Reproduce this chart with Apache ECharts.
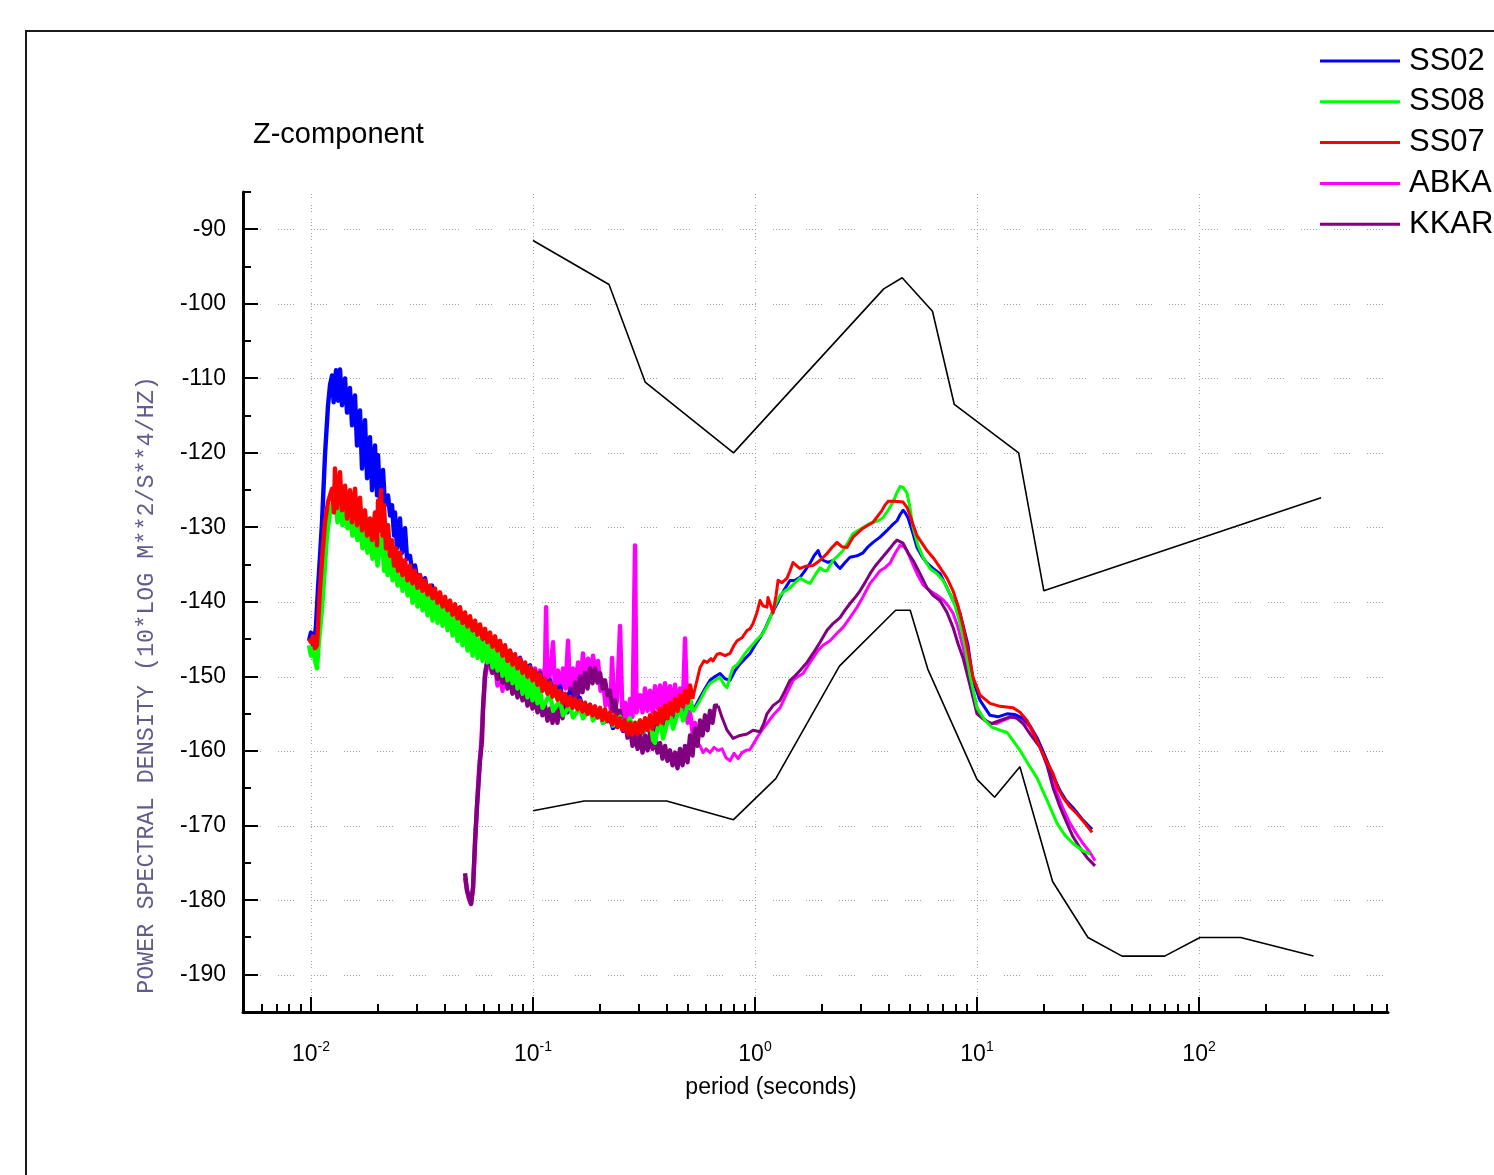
<!DOCTYPE html>
<html>
<head>
<meta charset="utf-8">
<title>Z-component power spectral density</title>
<script src="https://cdn.jsdelivr.net/npm/echarts@6/dist/echarts.min.js"></script>
<style>
  html, body { margin: 0; padding: 0; background: #ffffff; }
  #chart { width: 1494px; height: 1175px; }
</style>
</head>
<body>
<div id="chart"></div>
<script>
// ---- axis extents and tick values ----
const X_MIN = 0.004939, X_MAX = 710;      // period, seconds (log axis)
const Y_MIN = -195, Y_MAX = -85;          // dB
const xDecades = [0.01, 0.1, 1, 10, 100];
const yGridValues = [-190, -180, -170, -160, -150, -140, -130, -120, -110, -100, -90];

const titleText = 'Z-component';
const xAxisTitle = 'period (seconds)';
const yAxisTitle = 'POWER SPECTRAL DENSITY (10*LOG M**2/S**4/HZ)';

const stationNames = ['SS02', 'SS08', 'SS07', 'ABKA', 'KKAR'];
const stationColors = { SS02: '#0000ff', SS08: '#00ff00', SS07: '#ff0000', ABKA: '#ff00ff', KKAR: '#800080' };

// ---- Peterson new high / low noise models: [period s, dB] ----
const nhnm = [[0.10,-91.5],[0.22,-97.41],[0.32,-110.5],[0.80,-120.0],[3.80,-98.0],[4.60,-96.5],[6.30,-101.0],[7.90,-113.5],[15.40,-120.0],[20.00,-138.5],[354.8,-126.0]];
const nlnm = [[0.10,-168.0],[0.17,-166.7],[0.40,-166.7],[0.80,-169.2],[1.24,-163.7],[2.40,-148.6],[4.30,-141.1],[5.00,-141.1],[6.00,-149.0],[10.00,-163.8],[12.00,-166.2],[15.60,-162.1],[21.90,-177.5],[31.60,-185.0],[45.00,-187.5],[70.00,-187.5],[101.0,-185.0],[154.0,-185.0],[328.0,-187.5]];

// ---- station spectra: [period s, dB] ----
const ss02 = [
[0.00979,-145.2],[0.0100,-144.1],[0.01021,-145.8],[0.01042,-144.5],[0.01053,-143.2],[0.01075,-138.2],[0.01098,-133.8],[0.01121,-129.3],[0.01156,-120.3],[0.01193,-113.6],[0.01218,-110.9],
[0.01244,-109.6],[0.01264,-113.2],[0.01296,-108.9],[0.01323,-113.0],[0.01351,-108.8],[0.01379,-113.6],[0.01423,-110.0],[0.01453,-114.6],[0.01498,-111.3],[0.01530,-116.3],[0.01578,-112.3],[0.01611,-119.0],[0.01662,-114.3],[0.01697,-122.1],[0.01751,-115.6],[0.01788,-123.4],[0.01844,-117.9],[0.01883,-125.0],[0.01942,-119.0],[0.01983,-125.7],[0.02004,-120.3],[0.02046,-126.4],[0.02110,-122.3],[0.02154,-127.0],[0.02223,-125.7],[0.02270,-128.4],[0.02317,-127.0],[0.02366,-131.1],[0.02390,-128.0],[0.02440,-132.8],[0.02517,-128.8],[0.02570,-133.4],[0.02651,-130.1],[0.02707,-134.2],[0.02792,-133.8],[0.02851,-135.8],[0.02941,-135.1],[0.03003,-136.8],[0.03097,-136.4],[0.03162,-138.2],[0.03262,-136.8],[0.03331,-138.5],[0.03508,-137.8],[0.03582,-139.4],
[0.03812,-139.7],[0.03932,-141.4],[0.04229,-140.8],[0.04363,-142.1],[0.04690,-141.7],[0.04838,-143.1],[0.05203,-142.5],[0.05367,-144.1],[0.05771,-143.5],[0.05953,-145.1],[0.06402,-144.6],[0.06604,-146.1],[0.07101,-145.5],[0.07325,-147.1],[0.07877,-146.6],[0.08126,-148.2],[0.08737,-147.5],[0.09013,-149.1],[0.09693,-148.5],[0.1000,-150.2],[0.1075,-149.5],[0.1109,-151.1],[0.1193,-150.5],[0.1231,-152.2],[0.1323,-151.3],[0.1365,-153.1],[0.1468,-152.2],[0.1514,-153.9],[0.1628,-152.9],[0.1679,-154.6],[0.1806,-153.8],[0.1863,-155.1],[0.2004,-154.9],[0.2067,-156.2],[0.2223,-155.6],[0.2293,-156.9],[0.2466,-155.8],[0.2544,-157.3],[0.2735,-156.2],[0.2821,-157.8],[0.3034,-156.2],[0.3130,-157.5],[0.3365,-155.8],[0.3471,-157.3],[0.3733,-155.6],[0.3851,-156.9],[0.4141,-154.9],[0.4272,-156.2],[0.4594,-154.2],[0.4739,-155.5],[0.5096,-153.3],[0.5257,-154.6],
[0.5654,-152.8],[0.5955,-151.6],[0.6272,-150.5],[0.6606,-150.0],[0.6958,-149.6],[0.7329,-150.3],[0.7719,-150.5],[0.8130,-149.2],[0.8563,-148.3],[0.9019,-147.6],[0.9495,-146.9],[1.000,-145.8],[1.053,-144.8],[1.109,-143.6],[1.193,-141.5],[1.244,-140.5],[1.296,-139.4],[1.365,-138.2],[1.438,-137.1],[1.515,-137.1],[1.595,-136.7],[1.680,-135.8],[1.769,-134.8],[1.845,-133.8],[1.923,-133.1],[1.963,-133.8],[2.025,-134.4],[2.132,-134.7],[2.246,-134.4],[2.341,-135.1],[2.415,-135.5],[2.544,-134.7],[2.679,-134.0],[2.881,-133.8],[3.066,-133.4],[3.229,-132.6],[3.401,-132.0],[3.657,-131.3],[3.932,-130.4],[4.141,-129.7],[4.362,-129.1],[4.500,-128.3],[4.642,-127.7],[4.739,-128.0],[4.889,-128.7],[5.097,-130.4],[5.367,-132.7],[5.653,-133.9],[5.955,-134.8],[6.336,-135.5],[6.813,-136.2],[7.251,-137.8],[7.797,-139.8],[8.384,-141.5],[9.108,-145.8],[9.594,-150.5],[10.32,-153.2],[11.44,-155.2],[12.43,-155.4],[13.65,-155.0],[14.83,-155.1],[16.11,-155.6],[17.33,-156.6],[18.63,-158.2],[19.62,-159.7],[20.68,-161.3],[22.00,-163.3],[23.65,-165.3],[25.17,-166.6],[27.07,-167.6],[29.72,-169.1],[32.97,-170.5]
];

const ss08 = [
[0.00979,-145.8],[0.0100,-147.2],[0.01021,-146.2],[0.01042,-147.9],[0.01064,-148.9],[0.01086,-145.2],[0.01121,-140.9],[0.01156,-135.1],[0.01180,-131.1],[0.01218,-128.0],[0.01244,-127.0],
[0.01282,-126.1],[0.01316,-129.3],[0.01351,-126.4],[0.01386,-129.7],[0.01423,-127.4],[0.01460,-130.1],[0.01498,-128.0],[0.01537,-131.1],[0.01578,-128.8],[0.01619,-131.7],[0.01662,-129.7],[0.01706,-132.8],[0.01751,-130.1],[0.01797,-133.4],[0.01844,-130.7],[0.01893,-134.2],[0.01942,-131.3],[0.01993,-135.1],[0.02046,-132.0],[0.02089,-131.1],[0.02132,-135.8],[0.02154,-132.4],[0.02211,-136.4],[0.02270,-133.1],[0.02330,-137.1],[0.02390,-133.8],[0.02453,-137.8],[0.02517,-134.4],[0.02583,-138.5],[0.02651,-135.1],[0.02721,-139.1],[0.02792,-135.8],[0.02865,-140.1],[0.02941,-136.4],[0.03018,-140.6],[0.03097,-137.1],[0.03178,-141.1],[0.03262,-137.8],[0.03348,-141.8],[0.03436,-138.5],[0.03526,-142.5],[0.03619,-139.1],[0.03714,-142.8],[0.03812,-139.5],[0.03912,-143.2],[0.04015,-140.1],[0.04121,-143.8],[0.04229,-140.7],[0.04340,-144.5],[0.04454,-141.4],[0.04571,-145.2],[0.04690,-142.2],[0.04813,-145.8],[0.04940,-142.8],[0.05070,-146.5],[0.05203,-143.4],[0.05340,-147.2],[0.05480,-144.2],[0.05624,-147.5],[0.05771,-144.9],[0.05923,-147.9],[0.06078,-145.4],[0.06238,-148.1],[0.06402,-145.8],[0.06570,-148.8],[0.06743,-146.2],[0.06920,-149.2],[0.07101,-146.8],[0.07288,-149.9],[0.07479,-147.3],[0.07676,-150.5],[0.07877,-147.9],[0.08084,-150.9],[0.08296,-148.5],[0.08514,-151.6],[0.08737,-149.2],[0.08967,-152.3],[0.09204,-149.9],[0.09446,-152.8],[0.09693,-150.5],[0.09948,-153.2],[0.1021,-150.9],[0.1048,-153.6],[0.1075,-151.5],[0.1103,-154.2],[0.1193,-152.3],[0.1231,-154.6],[0.1323,-153.2],[0.1365,-155.2],[0.1468,-153.9],[0.1514,-155.5],[0.1628,-154.2],[0.1679,-155.6],[0.1806,-154.3],[0.1863,-155.9],[0.2004,-154.6],[0.2067,-156.2],[0.2223,-155.1],[0.2293,-156.6],[0.2466,-155.4],[0.2544,-157.0],[0.2735,-155.6],[0.2821,-157.2],[0.3034,-155.9],[0.3130,-157.5],[0.3365,-155.4],[0.3471,-158.5],[0.3544,-158.9],[0.3733,-155.2],[0.3851,-158.3],[0.4141,-154.8],[0.4272,-157.0],[0.4594,-153.9],[0.4739,-155.9],[0.5096,-153.0],[0.5257,-154.8],
[0.5654,-153.2],[0.5955,-151.9],[0.6272,-150.9],[0.6606,-150.5],[0.6958,-150.1],[0.7253,-151.1],[0.7483,-151.5],[0.7719,-150.0],[0.7963,-148.8],[0.8301,-148.4],[0.8563,-147.9],[0.9019,-146.9],[0.9495,-146.1],[1.0104,-145.2],[1.086,-144.2],[1.144,-142.8],[1.193,-141.5],[1.244,-140.2],[1.296,-139.1],[1.365,-138.5],[1.438,-138.1],[1.515,-137.4],[1.595,-136.8],[1.680,-137.2],[1.769,-137.5],[1.864,-136.4],[1.963,-135.4],[2.046,-135.8],[2.110,-135.8],[2.177,-135.1],[2.246,-134.4],[2.365,-133.8],[2.491,-133.1],[2.624,-132.0],[2.764,-130.8],[2.911,-130.4],[3.066,-130.0],[3.229,-129.6],[3.401,-129.3],[3.582,-129.1],[3.773,-128.7],[3.973,-127.7],[4.184,-126.6],[4.362,-125.3],[4.500,-124.5],[4.642,-124.6],[4.838,-125.4],[4.992,-127.4],[5.150,-130.0],[5.423,-132.4],[5.712,-134.0],[6.142,-135.5],[6.605,-136.2],[7.028,-137.1],[7.558,-138.9],[7.960,-140.5],[8.384,-142.9],[8.830,-145.8],[9.300,-149.9],[10.00,-154.2],[10.87,-155.9],[11.68,-156.8],[12.69,-157.2],[13.65,-157.5],[14.53,-158.6],[15.62,-159.9],[16.97,-161.7],[18.63,-163.6],[20.68,-166.6],[22.94,-169.7],[24.91,-171.3],[27.07,-172.4],[30.03,-173.4],[32.29,-173.8]
];

const ss07 = [
[0.00979,-144.9],[0.0100,-145.4],[0.01021,-144.6],[0.01042,-146.2],[0.01064,-145.8],[0.01098,-138.2],[0.01121,-134.4],[0.01156,-129.3],[0.01193,-126.6],[0.01218,-125.7],
[0.01244,-124.8],[0.01269,-128.0],[0.01282,-122.1],[0.01309,-127.4],[0.01351,-122.6],[0.01379,-127.7],[0.01423,-124.4],[0.01453,-128.8],[0.01498,-125.0],[0.01530,-129.3],[0.01578,-124.8],[0.01611,-129.7],[0.01662,-126.0],[0.01697,-130.4],[0.01751,-127.7],[0.01788,-131.1],[0.01844,-128.8],[0.01883,-131.7],[0.01942,-128.0],[0.01983,-132.4],[0.02004,-126.4],[0.02035,-130.4],[0.02067,-125.0],[0.02099,-131.1],[0.02132,-127.0],[0.02176,-132.8],[0.02223,-129.7],[0.02270,-133.8],[0.02317,-131.7],[0.02366,-135.1],[0.02415,-132.8],[0.02466,-135.8],[0.02517,-133.4],[0.02583,-136.4],[0.02651,-134.4],[0.02721,-137.1],[0.02792,-135.1],[0.02865,-137.5],[0.02941,-135.8],[0.03018,-138.1],[0.03097,-136.4],[0.03178,-138.5],[0.03262,-137.1],[0.03348,-139.0],[0.03436,-137.8],[0.03526,-139.5],[0.03619,-138.2],[0.03714,-140.1],[0.03812,-138.7],[0.03912,-140.6],[0.04015,-139.3],[0.04121,-141.1],[0.04229,-139.8],[0.04340,-141.7],[0.04454,-140.3],[0.04571,-142.2],[0.04690,-140.7],[0.04813,-142.8],[0.04940,-141.4],[0.05070,-143.3],[0.05203,-141.9],[0.05340,-143.8],[0.05480,-142.5],[0.05624,-144.4],[0.05771,-143.0],[0.05923,-144.9],[0.06078,-143.6],[0.06238,-145.4],[0.06402,-144.1],[0.06570,-146.0],[0.06743,-144.6],[0.06920,-146.5],[0.07101,-145.2],[0.07288,-147.2],[0.07479,-145.8],[0.07676,-147.9],[0.07877,-146.5],[0.08084,-148.4],[0.08296,-147.0],[0.08514,-148.9],[0.08737,-147.6],[0.08967,-149.5],[0.09204,-148.1],[0.09446,-150.0],[0.09693,-148.7],[0.09948,-150.5],[0.1021,-149.2],[0.1048,-151.1],[0.1075,-149.7],[0.1103,-151.9],[0.1133,-150.3],[0.1162,-152.3],[0.1193,-150.8],[0.1224,-152.7],[0.1256,-151.3],[0.1289,-153.1],[0.1323,-151.9],[0.1358,-153.5],[0.1393,-152.3],[0.1430,-153.9],[0.1468,-152.7],[0.1506,-154.2],[0.1546,-153.0],[0.1587,-154.4],[0.1628,-153.2],[0.1671,-154.7],[0.1715,-153.5],[0.1760,-155.0],[0.1806,-153.8],[0.1854,-155.2],[0.1902,-154.0],[0.1952,-155.5],[0.2004,-154.2],[0.2057,-155.8],[0.2110,-154.4],[0.2166,-156.0],[0.2223,-154.8],[0.2281,-156.4],[0.2341,-155.2],[0.2403,-156.8],[0.2466,-155.6],[0.2531,-157.2],[0.2597,-155.9],[0.2665,-157.7],[0.2735,-156.2],[0.2807,-157.8],[0.2881,-156.2],[0.2957,-157.7],[0.3034,-155.9],[0.3114,-157.5],[0.3195,-155.6],[0.3280,-157.2],[0.3365,-155.2],[0.3454,-157.0],[0.3544,-154.8],[0.3637,-156.4],[0.3733,-154.3],[0.3831,-156.2],[0.3932,-153.9],[0.4035,-155.6],[0.4141,-153.5],[0.4250,-155.1],[0.4362,-153.0],[0.4476,-154.6],[0.4594,-152.5],[0.4715,-154.0],[0.4839,-151.9],[0.4966,-153.5],[0.5096,-151.2],[0.5230,-153.0],
[0.5654,-148.8],[0.5894,-147.9],[0.6080,-148.1],[0.6337,-147.6],[0.6470,-147.9],[0.6745,-147.0],[0.6958,-146.9],[0.7329,-147.2],[0.7719,-146.9],[0.8046,-145.8],[0.8301,-145.2],[0.8743,-144.8],[0.9208,-143.8],[0.9495,-143.6],[0.9795,-142.9],[1.021,-141.4],[1.053,-139.8],[1.086,-140.5],[1.132,-140.7],[1.144,-139.4],[1.181,-140.6],[1.205,-141.5],[1.244,-139.1],[1.270,-137.1],[1.323,-137.4],[1.394,-136.8],[1.438,-135.8],[1.483,-134.7],[1.547,-135.2],[1.595,-135.5],[1.697,-135.2],[1.825,-135.1],[1.963,-134.4],[2.110,-133.5],[2.222,-132.7],[2.341,-132.0],[2.466,-132.6],[2.597,-132.7],[2.679,-132.0],[2.764,-131.3],[2.911,-130.7],[3.066,-130.1],[3.229,-129.7],[3.401,-129.3],[3.582,-128.4],[3.734,-127.7],[3.851,-127.0],[3.973,-126.5],[4.272,-126.5],[4.642,-126.6],[4.838,-127.3],[4.992,-128.4],[5.150,-129.6],[5.367,-131.1],[5.653,-132.1],[5.955,-133.1],[6.401,-134.2],[6.813,-135.4],[7.327,-136.8],[7.797,-138.5],[8.213,-140.5],[8.649,-143.2],[9.108,-146.5],[9.594,-150.1],[10.32,-152.5],[11.44,-153.6],[12.69,-154.0],[14.53,-154.2],[15.62,-154.8],[16.80,-155.9],[18.06,-157.7],[19.22,-159.5],[20.68,-161.5],[22.00,-163.0],[23.18,-165.0],[24.40,-166.2],[26.24,-167.5],[28.21,-168.4],[30.66,-169.7],[32.97,-170.9]
];

const abka = [
[0.04940,-177.0],[0.05044,-178.7],[0.05150,-179.8],[0.05257,-180.5],[0.05367,-178.5],[0.05480,-172.7],[0.05595,-167.3],[0.05712,-162.6],[0.05831,-159.3],[0.05953,-154.6],[0.06078,-150.3],[0.06205,-148.4],[0.06336,-148.1],[0.06536,-149.5],
[0.06743,-148.5],[0.06920,-151.2],[0.07101,-148.9],[0.07288,-151.9],[0.07479,-148.5],[0.07676,-151.6],[0.07877,-149.2],[0.08084,-152.1],[0.08296,-148.9],[0.08514,-151.9],[0.08737,-149.5],[0.08967,-152.3],[0.09204,-149.2],[0.09446,-151.9],[0.09693,-149.5],[0.09948,-152.1],[0.1021,-148.9],[0.1048,-151.9],[0.1075,-149.2],[0.1103,-151.6],[0.1133,-148.5],[0.1145,-140.7],[0.1162,-151.9],[0.1193,-149.5],[0.1231,-145.4],[0.1256,-151.9],[0.1295,-149.2],[0.1330,-152.1],[0.1365,-148.9],[0.1400,-151.6],[0.1438,-145.2],[0.1468,-151.9],[0.1514,-148.9],[0.1554,-151.2],[0.1596,-148.1],[0.1636,-150.8],[0.1679,-146.9],[0.1724,-150.5],[0.1770,-147.6],[0.1815,-149.9],[0.1863,-147.2],[0.1912,-149.5],[0.1963,-147.9],[0.2014,-151.9],[0.2067,-150.5],[0.2121,-153.9],[0.2176,-151.9],[0.2234,-154.3],[0.2270,-147.5],[0.2329,-154.8],[0.2390,-153.2],[0.2466,-143.2],[0.2531,-155.6],[0.2597,-153.5],[0.2665,-155.9],[0.2735,-153.0],[0.2807,-155.4],[0.2881,-132.4],[0.2926,-154.8],[0.3034,-152.5],[0.3114,-154.8],[0.3195,-151.6],[0.3280,-154.6],[0.3365,-151.9],[0.3454,-154.8],[0.3544,-151.3],[0.3637,-154.3],[0.3733,-151.2],[0.3831,-154.0],[0.3932,-150.9],[0.4035,-153.9],[0.4141,-151.3],[0.4250,-154.3],[0.4362,-151.1],[0.4476,-154.6],[0.4594,-151.6],[0.4715,-155.2],[0.4839,-144.9],[0.4966,-156.2],[0.5096,-154.8],[0.5230,-157.5],[0.5368,-156.2],[0.5509,-158.9],
[0.5654,-159.3],[0.5833,-160.2],[0.6017,-159.7],[0.6272,-160.2],[0.6538,-159.5],[0.6815,-159.9],[0.7104,-159.7],[0.7405,-160.9],[0.7719,-161.3],[0.8046,-160.3],[0.8387,-161.0],[0.8743,-160.2],[0.9113,-159.9],[0.9495,-159.8],[0.9897,-158.9],[1.021,-158.2],[1.075,-157.2],[1.132,-156.3],[1.205,-155.2],[1.296,-154.2],[1.379,-152.5],[1.483,-150.5],[1.563,-150.0],[1.645,-149.6],[1.769,-148.1],[1.923,-146.5],[2.025,-145.8],[2.177,-145.2],[2.341,-144.2],[2.491,-143.4],[2.679,-142.1],[2.881,-140.7],[3.066,-139.3],[3.297,-137.5],[3.472,-136.7],[3.657,-135.8],[3.851,-135.4],[4.056,-134.8],[4.272,-133.5],[4.500,-132.4],[4.691,-132.6],[4.838,-133.1],[5.097,-134.7],[5.367,-136.2],[5.712,-137.7],[6.142,-138.5],[6.605,-139.1],[7.028,-139.7],[7.409,-140.5],[7.797,-141.5],[8.213,-143.4],[8.649,-146.1],[9.300,-150.1],[10.00,-154.2],[10.65,-155.6],[11.44,-156.3],[12.30,-156.3],[13.09,-155.9],[14.08,-155.5],[15.13,-155.2],[16.11,-155.9],[17.33,-156.8],[18.63,-158.6],[19.82,-160.3],[21.32,-163.0],[22.94,-165.7],[24.40,-167.7],[26.24,-169.7],[28.21,-171.2],[30.03,-172.4],[32.29,-173.6],[34.01,-174.7]
];

const kkar = [
[0.04940,-176.4],[0.05044,-178.7],[0.05150,-179.7],[0.05257,-180.5],[0.05367,-178.3],[0.05480,-172.0],[0.05595,-167.3],[0.05653,-165.3],[0.05771,-161.3],[0.05892,-158.6],[0.05953,-154.2],[0.06078,-149.6],[0.06205,-148.1],[0.06270,-147.9],
[0.06402,-147.9],[0.06570,-149.5],[0.06743,-148.5],[0.06920,-150.3],[0.07101,-149.2],[0.07288,-150.8],[0.07479,-149.5],[0.07676,-151.6],[0.07877,-150.3],[0.08084,-152.3],[0.08296,-150.5],[0.08514,-152.8],[0.08737,-151.2],[0.08967,-153.2],[0.09204,-151.9],[0.09446,-153.9],[0.09693,-152.3],[0.09948,-154.3],[0.1021,-152.8],[0.1048,-154.8],[0.1075,-153.2],[0.1103,-155.2],[0.1133,-153.9],[0.1162,-155.9],[0.1193,-154.3],[0.1224,-156.2],[0.1256,-154.3],[0.1289,-156.2],[0.1323,-153.2],[0.1358,-155.6],[0.1393,-152.5],[0.1430,-154.8],[0.1468,-151.6],[0.1506,-153.9],[0.1546,-150.8],[0.1587,-153.0],[0.1628,-150.0],[0.1671,-152.1],[0.1715,-149.5],[0.1760,-151.6],[0.1806,-148.9],[0.1854,-150.9],[0.1902,-148.9],[0.1952,-150.8],[0.2004,-149.5],[0.2057,-151.6],[0.2110,-150.5],[0.2166,-152.5],[0.2223,-151.9],[0.2281,-154.6],[0.2341,-153.2],[0.2403,-155.6],[0.2466,-154.6],[0.2531,-157.0],[0.2597,-155.9],[0.2665,-158.2],[0.2735,-157.0],[0.2807,-159.3],[0.2881,-157.5],[0.2957,-159.7],[0.3034,-157.9],[0.3114,-160.2],[0.3195,-157.9],[0.3280,-159.9],[0.3365,-157.5],[0.3454,-159.7],[0.3544,-158.3],[0.3637,-160.2],[0.3733,-158.9],[0.3831,-161.0],[0.3932,-159.3],[0.4035,-161.3],[0.4141,-159.9],[0.4250,-161.9],[0.4362,-160.2],[0.4476,-162.3],[0.4594,-159.7],[0.4715,-161.9],[0.4839,-159.3],[0.4966,-161.5],[0.5096,-157.9],[0.5230,-160.6],[0.5368,-157.0],[0.5509,-159.3],[0.5654,-155.9],[0.5802,-157.9],[0.5955,-155.2],[0.6112,-157.2],[0.6272,-154.6],[0.6437,-156.2],[0.6606,-153.9],[0.6815,-153.9],
[0.7104,-155.5],[0.7483,-157.2],[0.7963,-158.3],[0.8563,-157.9],[0.9208,-157.7],[0.9795,-157.2],[1.053,-157.4],[1.098,-156.2],[1.132,-155.0],[1.205,-153.9],[1.296,-153.2],[1.365,-151.9],[1.438,-150.5],[1.515,-149.9],[1.595,-149.2],[1.715,-148.1],[1.825,-146.9],[1.963,-145.4],[2.110,-143.8],[2.246,-142.9],[2.415,-142.1],[2.544,-141.1],[2.679,-140.2],[2.822,-139.4],[2.972,-138.5],[3.130,-137.4],[3.297,-136.2],[3.472,-135.2],[3.657,-134.4],[3.851,-133.6],[4.056,-132.8],[4.228,-132.1],[4.362,-131.7],[4.500,-131.9],[4.642,-132.1],[4.889,-133.4],[5.150,-134.4],[5.537,-136.2],[5.955,-138.1],[6.336,-139.1],[6.813,-139.8],[7.327,-141.4],[7.797,-143.4],[8.213,-145.6],[8.649,-147.5],[9.300,-151.2],[10.00,-155.0],[10.87,-155.9],[11.68,-156.3],[12.69,-155.9],[14.08,-155.4],[15.13,-155.6],[16.11,-156.3],[17.33,-157.7],[19.22,-159.5],[20.68,-161.9],[22.00,-164.9],[23.65,-167.5],[25.43,-169.7],[27.07,-171.5],[29.11,-173.0],[31.32,-174.3],[34.01,-175.4]
];

const stationData = { SS02: ss02, SS08: ss08, SS07: ss07, ABKA: abka, KKAR: kkar };
// short-period end of each spectrum is a dense noisy band; beyond this period the trace is smooth
const noisyUpTo = { SS02: 0.53, SS08: 0.53, SS07: 0.53, ABKA: 0.56, KKAR: 0.69 };
// drawing order, bottom to top
const drawOrder = ['ABKA', 'KKAR', 'SS02', 'SS08', 'SS07'];

const SANS = '"Liberation Sans", Arial, sans-serif';
const MONO = '"Liberation Mono", "Courier New", monospace';

// Dotted grid lines plus inward major/minor ticks, placed through the axes' own scales.
function renderAxisDecor(params, api) {
  const lo = api.coord([X_MIN, Y_MIN]);
  const hi = api.coord([X_MAX, Y_MAX]);
  const xl = lo[0], yb = lo[1], xr = hi[0], yt = hi[1];
  const children = [];
  const crisp = v => Math.round(v) + 0.5;

  yGridValues.forEach(v => {
    const y = crisp(api.coord([1, v])[1]);
    children.push({ type: 'line', shape: { x1: xl + 2, y1: y, x2: xr, y2: y },
      style: { stroke: '#a0a0a0', lineWidth: 1, lineDash: [1, 2, 1, 2, 1, 2, 1, 2, 1, 2, 1, 17] } });
  });
  xDecades.forEach(v => {
    const x = crisp(api.coord([v, -150])[0]);
    children.push({ type: 'line', shape: { x1: x, y1: yb - 2, x2: x, y2: yt },
      style: { stroke: '#a0a0a0', lineWidth: 1, lineDash: [1, 2, 1, 2, 1, 7] } });
  });

  for (let e = -3; e <= 2; e++) {
    for (let m = 1; m <= 9; m++) {
      const v = m * Math.pow(10, e);
      if (v <= X_MIN || v >= X_MAX) continue;
      const x = Math.round(api.coord([v, -150])[0]);
      const len = m === 1 ? 15 : 8;
      children.push({ type: 'line', shape: { x1: x, y1: yb, x2: x, y2: yb - len },
        style: { stroke: '#000', lineWidth: 2 } });
    }
  }
  for (let v = Y_MIN + 5; v <= Y_MAX; v += 5) {
    const y = Math.round(api.coord([1, v])[1]);
    const len = v % 10 === 0 ? 15 : 8;
    children.push({ type: 'line', shape: { x1: xl, y1: y, x2: xl + len, y2: y },
      style: { stroke: '#000', lineWidth: 2 } });
  }
  return { type: 'group', children: children };
}

function decadeLabel(v) {
  const lg = Math.log10(v);
  const e = Math.round(lg);
  if (Math.abs(lg - e) > 1e-6) return '';
  return '{b|10}{s|' + e + '}';
}

// each station: a heavier stroke for the noisy band, a normal stroke for the smooth part
const lineSeries = [];
drawOrder.forEach(name => {
  const data = stationData[name];
  const cut = data.findIndex(d => d[0] > noisyUpTo[name]);
  const base = {
    name: name, type: 'line', showSymbol: false, symbol: 'none',
    color: stationColors[name], itemStyle: { color: stationColors[name] }, z: 3
  };
  lineSeries.push(Object.assign({}, base, {
    data: data.slice(0, cut),
    lineStyle: { color: stationColors[name], width: 4.4, join: 'round' }
  }));
  lineSeries.push(Object.assign({}, base, {
    data: data.slice(cut - 1),
    lineStyle: { color: stationColors[name], width: 3, join: 'round' }
  }));
});

const modelSeries = [
  { name: 'NHNM', data: nhnm },
  { name: 'NLNM', data: nlnm }
].map(s => ({
  name: s.name, type: 'line', data: s.data, showSymbol: false, symbol: 'none',
  color: '#000', lineStyle: { color: '#000', width: 1.6 }, z: 2
}));

const chart = echarts.init(document.getElementById('chart'), null, { renderer: 'canvas' });

chart.setOption({
  animation: false,
  backgroundColor: '#ffffff',
  grid: { left: 243, right: 106, top: 192, bottom: 163, containLabel: false, outerBoundsMode: 'none' },
  xAxis: {
    type: 'log', logBase: 10, min: X_MIN, max: X_MAX,
    axisLine: { show: true, onZero: false, lineStyle: { color: '#000', width: 3 } },
    axisTick: { show: false },
    minorTick: { show: false },
    splitLine: { show: false },
    minorSplitLine: { show: false },
    axisLabel: {
      margin: 28, showMinLabel: false, showMaxLabel: false,
      formatter: decadeLabel,
      rich: {
        b: { fontSize: 23, fontFamily: SANS, color: '#000', lineHeight: 30 },
        s: { fontSize: 14, fontFamily: SANS, color: '#000', lineHeight: 11, verticalAlign: 'top' }
      }
    }
  },
  yAxis: {
    type: 'value', min: Y_MIN, max: Y_MAX, interval: 5,
    axisLine: { show: true, onZero: false, lineStyle: { color: '#000', width: 3 } },
    axisTick: { show: false },
    splitLine: { show: false },
    axisLabel: {
      margin: 17, fontSize: 23, fontFamily: SANS, color: '#000',
      formatter: v => (v % 10 === 0 && v > Y_MIN && v < Y_MAX) ? String(v) : ''
    }
  },
  legend: {
    data: stationNames,
    orient: 'vertical',
    left: 1320, top: 45.5,
    padding: 0,
    itemGap: 9.8,
    itemWidth: 80, itemHeight: 3,
    icon: 'rect',
    selectedMode: false,
    textStyle: { fontSize: 31, fontFamily: SANS, color: '#000', lineHeight: 31, padding: [0, 0, 0, 4] }
  },
  graphic: [
    { type: 'polyline', silent: true, z: 10,
      shape: { points: [[26, 1180], [26, 31], [1500, 31]] },
      style: { stroke: '#1a1a1a', lineWidth: 2, fill: null } },
    { type: 'text', x: 253, y: 135, silent: true,
      style: { text: titleText, font: '29px ' + SANS, fill: '#000', align: 'left', verticalAlign: 'middle' } },
    { type: 'text', x: 771, y: 1088, silent: true,
      style: { text: xAxisTitle, font: '23px ' + SANS, fill: '#000', align: 'center', verticalAlign: 'middle' } },
    { type: 'text', x: 147, y: 685, rotation: Math.PI / 2, silent: true,
      style: { text: yAxisTitle, font: '23.4px ' + MONO, fill: '#625c8c', align: 'center', verticalAlign: 'middle' } }
  ],
  series: [
    { name: 'axisDecor', type: 'custom', coordinateSystem: 'cartesian2d', silent: true, z: 1,
      data: [[1, -150]], renderItem: renderAxisDecor }
  ].concat(modelSeries, lineSeries)
});
</script>
</body>
</html>
